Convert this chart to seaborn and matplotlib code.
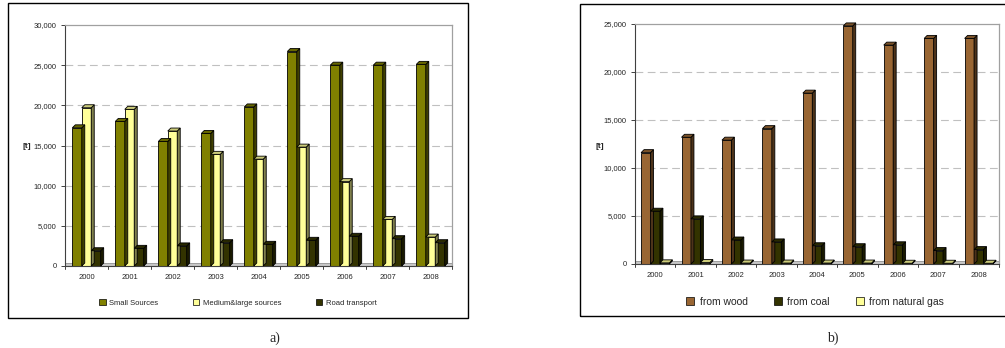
import numpy as np
import pandas as pd
import matplotlib
matplotlib.use("Agg")
import matplotlib.pyplot as plt
import seaborn as sns
from matplotlib.patches import Polygon, Rectangle
from matplotlib.ticker import FuncFormatter
import matplotlib.colors as mcolors

years = ["2000", "2001", "2002", "2003", "2004", "2005", "2006", "2007", "2008"]

small_sources = [17200, 18000, 15500, 16500, 19800, 26700, 25000, 25000, 25100]
medium_large = [19700, 19500, 16800, 13900, 13300, 14800, 10500, 5800, 3600]
road_transport = [1900, 2200, 2500, 2900, 2700, 3200, 3700, 3400, 2900]

from_wood = [11600, 13200, 12900, 14100, 17800, 24800, 22800, 23500, 23500]
from_coal = [5500, 4700, 2500, 2300, 1900, 1800, 2000, 1400, 1500]
from_gas = [120, 150, 100, 100, 100, 100, 80, 80, 80]

labels_a = ["Small Sources", "Medium&large sources", "Road transport"]
labels_b = ["from wood", "from coal", "from natural gas"]
colors_a = ["#808000", "#FFFF99", "#333300"]
colors_b = ["#996633", "#333300", "#FFFF99"]

sns.set_theme(style="white")
plt.rcParams["font.family"] = ["Liberation Sans", "DejaVu Sans"]

W, H = 1005, 348
fig = plt.figure(figsize=(W / 100, H / 100), dpi=100)


def px_axes(x0, y0, x1, y1):
    return fig.add_axes([x0 / W, 1 - y1 / H, (x1 - x0) / W, (y1 - y0) / H])


def shade(c, f):
    r, g, b = mcolors.to_rgb(c)
    return (r * f, g * f, b * f)


def add_3d(ax, dx_px=3.0, dy_px=3.0):
    fig.canvas.draw()
    bb = ax.get_window_extent()
    x0, x1 = ax.get_xlim()
    y0, y1 = ax.get_ylim()
    dxd = dx_px / bb.width * (x1 - x0)
    dyd = dy_px / bb.height * (y1 - y0)
    for p in list(ax.patches):
        if not isinstance(p, Rectangle):
            continue
        x, w, h = p.get_x(), p.get_width(), p.get_height()
        if np.isnan(h):
            continue
        p.set_clip_on(False)
        fc = p.get_facecolor()
        top = Polygon([(x, h), (x + dxd, h + dyd), (x + w + dxd, h + dyd), (x + w, h)],
                      closed=True, facecolor=shade(fc, 0.8), edgecolor="black", lw=0.6,
                      zorder=3, clip_on=False)
        side = Polygon([(x + w, 0), (x + w + dxd, dyd), (x + w + dxd, h + dyd), (x + w, h)],
                       closed=True, facecolor=shade(fc, 0.5), edgecolor="black", lw=0.6,
                       zorder=3, clip_on=False)
        ax.add_patch(side)
        ax.add_patch(top)


def make_panel(ax, vals, labels, colors, ymax, ystep, width):
    df = pd.DataFrame({
        "year": [y for y in years for _ in labels],
        "series": [l for _ in years for l in labels],
        "value": [v for i in range(len(years)) for v in [s[i] for s in vals]],
    })
    sns.barplot(data=df, x="year", y="value", hue="series", hue_order=labels,
                palette=colors, width=width, ax=ax, edgecolor="black", linewidth=0.6,
                saturation=1, legend=False, zorder=2)
    ax.set_xlim(-0.5, len(years) - 0.5)
    ax.set_ylim(0, ymax)
    ax.set_yticks(np.arange(0, ymax + 1, ystep))
    ax.yaxis.set_major_formatter(FuncFormatter(lambda v, p: f"{int(v):,}"))
    ax.set_xlabel("")
    ax.set_ylabel("")
    for yv in np.arange(ystep, ymax, ystep):
        ax.axhline(yv, color="#c0c0c0", lw=0.8, ls=(0, (7, 4)), zorder=0)
    for s in ["top", "right"]:
        ax.spines[s].set_color("#a0a0a0")
        ax.spines[s].set_linewidth(0.9)
    ax.spines["left"].set_color("#404040")
    ax.spines["bottom"].set_color("#404040")
    ax.spines["left"].set_linewidth(0.8)
    ax.spines["bottom"].set_linewidth(0.8)
    ax.tick_params(axis="both", labelsize=5.5, length=3, width=0.7, color="#404040", pad=3,
                   direction="out", left=True, bottom=False)
    ax.set_xticks(np.arange(len(years)))
    ax.set_xticklabels(years)
    for xv in np.arange(-0.5, len(years), 1.0):
        ax.plot([xv, xv], [0, -0.012 * ymax], color="#404040", lw=0.7, clip_on=False)
    ax.set_facecolor("white")
    add_3d(ax)
    # floor strip (decoration)
    ax.add_patch(Rectangle((0, 0), 1, 0.014, transform=ax.transAxes,
                           facecolor="#c8c8c8", edgecolor="#808080", lw=0.5, zorder=1))


# Panel a
axa = px_axes(65, 25, 452, 266)
make_panel(axa, [small_sources, medium_large, road_transport], labels_a, colors_a, 30000, 5000, 0.66)
fig.text(27 / W, 1 - 146 / H, "[t]", fontsize=6, ha="center", va="center", weight="bold")
box_a = Rectangle((8 / W, 1 - 318 / H), (468 - 8) / W, (318 - 3) / H, transform=fig.transFigure,
                  fill=False, edgecolor="black", lw=1.0)
fig.patches.append(box_a)
handles_a = [Rectangle((0, 0), 1, 1, facecolor=c, edgecolor="black", lw=0.5) for c in colors_a]
fig.legend(handles_a, labels_a, loc="center", bbox_to_anchor=(238 / W, 1 - 303 / H), ncol=3,
           frameon=False, fontsize=5.5, handlelength=0.8, handleheight=0.8, columnspacing=4.5,
           handletextpad=0.5)
fig.text(275 / W, 1 - 338 / H, "a)", fontsize=10, ha="center", va="center", family="Liberation Serif")

# Panel b
axb = px_axes(635, 24, 999, 264)
make_panel(axb, [from_wood, from_coal, from_gas], labels_b, colors_b, 25000, 5000, 0.7)
fig.text(600 / W, 1 - 146 / H, "[t]", fontsize=6, ha="center", va="center", weight="bold")
box_b = Rectangle((580 / W, 1 - 316 / H), (1010 - 580) / W, (316 - 4) / H, transform=fig.transFigure,
                  fill=False, edgecolor="black", lw=1.0, clip_on=False)
fig.patches.append(box_b)
handles_b = [Rectangle((0, 0), 1, 1, facecolor=c, edgecolor="black", lw=0.5) for c in colors_b]
fig.legend(handles_b, labels_b, loc="center", bbox_to_anchor=(815 / W, 1 - 302 / H), ncol=3,
           frameon=False, fontsize=7.5, handlelength=0.8, handleheight=0.8, columnspacing=2.5,
           handletextpad=0.5)
fig.text(833 / W, 1 - 338 / H, "b)", fontsize=10, ha="center", va="center", family="Liberation Serif")

fig.savefig("out.png", dpi=100)
